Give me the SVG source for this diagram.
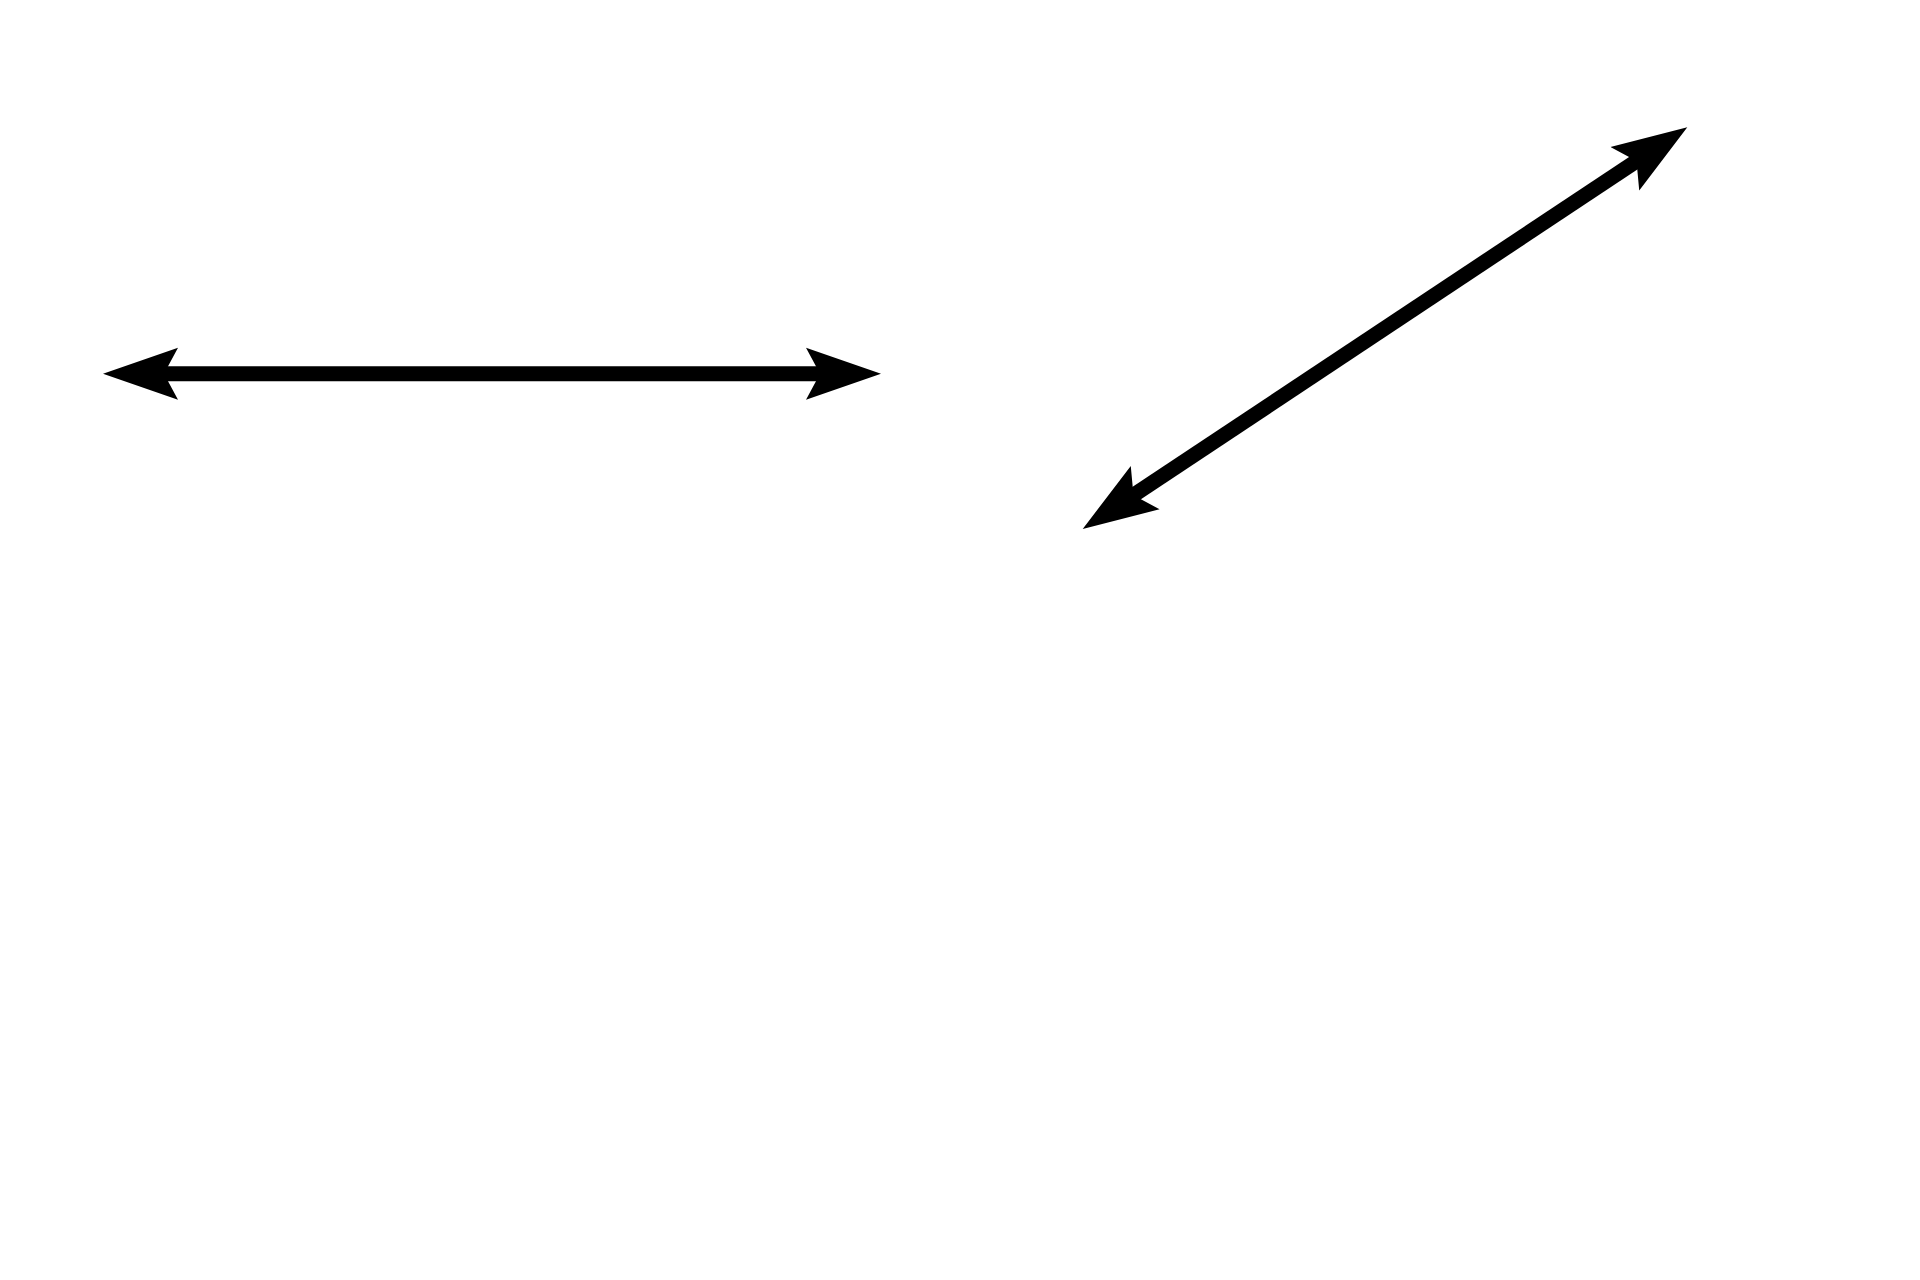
<svg xmlns="http://www.w3.org/2000/svg" width="1920" height="1280" viewBox="0 0 1920 1280">
  <defs>
    <style>
      .conn { stroke: #000; stroke-width: 15; fill: none; marker-start: url(#head); marker-end: url(#head); }
    </style>
    <marker id="head" markerUnits="userSpaceOnUse" markerWidth="76" markerHeight="54" viewBox="0 0 76 54" refX="20" refY="26.5" orient="auto-start-reverse">
      <path d="M0,0.5 L75,26.5 L0,52.5 L14,26.5 Z" fill="#000"/>
    </marker>
  </defs>
  <rect width="1920" height="1280" fill="#fff"/>
  <g id="connectors">
    <path id="horizontal-arrow" class="conn" d="M158,373.8 L826,373.8"/>
    <path id="diagonal-arrow" class="conn" d="M1128.5,498.6 L1641.5,157.7"/>
  </g>
</svg>
